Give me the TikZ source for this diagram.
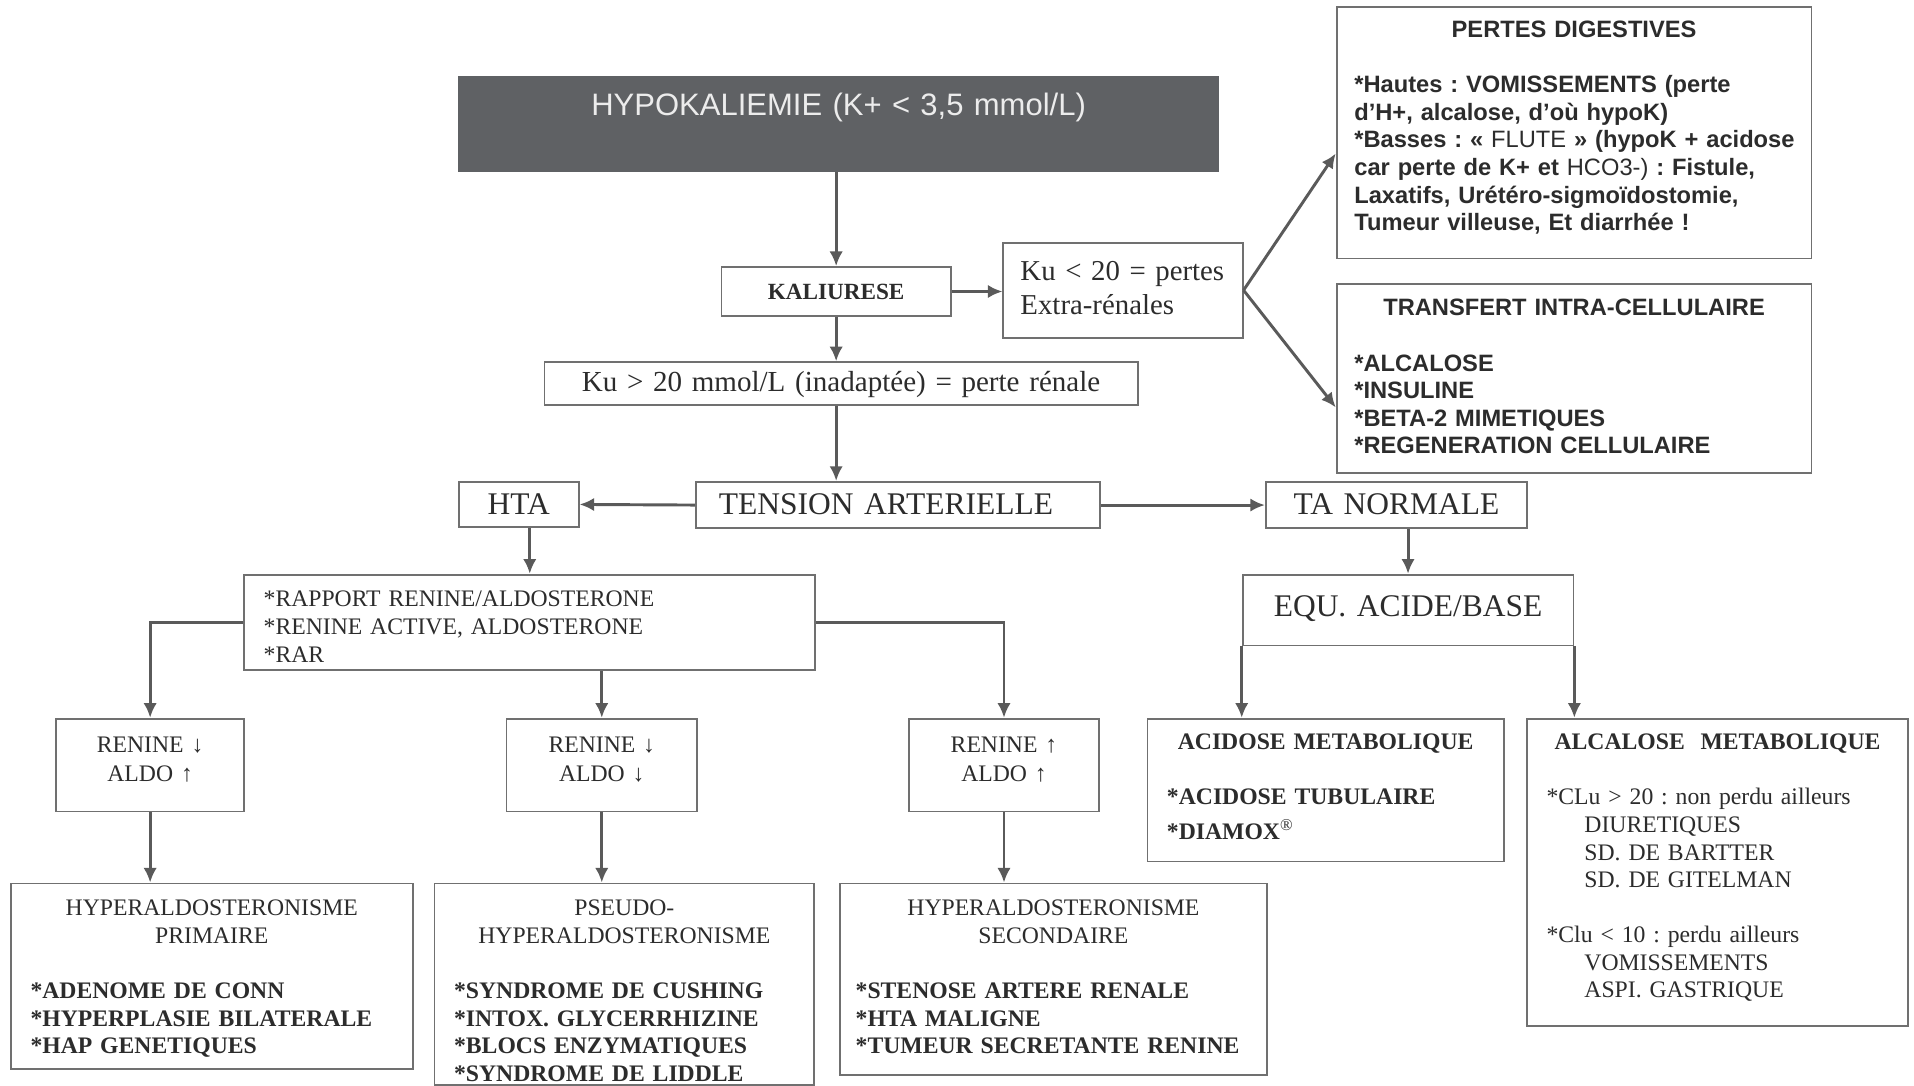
\documentclass[tikz,border=0pt]{standalone}
\usepackage{fontspec}
\setmainfont{Liberation Serif}
\setsansfont{Liberation Sans}
\usetikzlibrary{arrows.meta}
\definecolor{boxgray}{HTML}{707070}
\definecolor{linegray}{HTML}{5A5A5A}
\definecolor{inkgray}{HTML}{2C2C2C}
\definecolor{headgray}{HTML}{5F6164}
\definecolor{headtext}{HTML}{ECECEC}
\newcommand{\boxtitle}[1]{\makebox[\linewidth]{#1}}
\tikzset{
  cell/.style={draw=boxgray, line width=0.75pt, text=inkgray, inner ysep=0pt, inner xsep=8pt, anchor=north},
  note/.style={cell, align=left, font=\fontsize{9.7}{11.3}\selectfont},
  sansnote/.style={cell, align=left, font=\sffamily\bfseries\fontsize{9.7}{11.3}\selectfont},
  bignote/.style={cell, align=center, inner xsep=0pt, font=\fontsize{12.9}{15}\selectfont},
  renbox/.style={cell, align=center, inner xsep=0pt, text height=13.7pt, text depth=24.3pt,
    font=\fontsize{9.7}{12}\selectfont},
  link/.style={draw=linegray, line width=1.2pt, -{Latex[length=6pt,width=5.5pt]}},
}
\begin{document}
\frenchspacing
\begin{tikzpicture}[x=0.5pt,y=-0.5pt]
  \fill[white] (0,0) rectangle (1568,889);
  \useasboundingbox (0,0) rectangle (1568,889);
  % Start
  \node[cell, fill=headgray, draw=headgray, text=headtext, align=center, inner xsep=0pt,
        text width=311pt, text height=16pt, text depth=22.5pt,
        font=\sffamily\fontsize{12.7}{15}\selectfont] (hypo) at (687,62) {HYPOKALIEMIE (K+ < 3,5 mmol/L)};
  \node[cell, align=center, inner xsep=0pt, text width=94pt, text height=13.2pt, text depth=6.85pt,
        font=\bfseries\fontsize{9.5}{11}\selectfont] (kal) at (685,218) {KALIURESE};
  \node[cell, align=left, inner xsep=7pt, text width=84pt, text height=15.4pt, text depth=23.6pt,
        font=\fontsize{11.8}{14}\selectfont] (ku20) at (920,198) {Ku < 20 = pertes\\Extra-rénales};
  \node[cell, align=center, inner xsep=0pt, text width=243pt, text height=12pt, text depth=5.5pt,
        font=\fontsize{11.9}{14}\selectfont] (ku20r) at (689,296) {Ku > 20 mmol/L (inadaptée) = perte rénale};
  % Extra-renal losses
  \node[sansnote, inner xsep=7.25pt, text width=180pt, text height=12.5pt, text depth=90.5pt] (pertes) at (1289.5,5)
    {\boxtitle{PERTES DIGESTIVES}\\[11.3pt]
     \mbox{*Hautes : VOMISSEMENTS (perte}\\
     \mbox{d’H+, alcalose, d’où hypoK)}\\
     \mbox{*Basses : « \textmd{FLUTE} » (hypoK + acidose}\\
     \mbox{car perte de K+ et \textmd{HCO3-)} : Fistule,}\\
     \mbox{Laxatifs, Urétéro-sigmoïdostomie,}\\
     \mbox{Tumeur villeuse, Et diarrhée !}};
  \node[sansnote, inner xsep=7.25pt, text width=180pt, text height=13pt, text depth=64.5pt] (trans) at (1289.5,232)
    {\boxtitle{TRANSFERT INTRA-CELLULAIRE}\\[11.3pt]
     {*}ALCALOSE\\
     {*}INSULINE\\
     {*}BETA-2 MIMETIQUES\\
     {*}REGENERATION CELLULAIRE};
  % Blood pressure
  \node[bignote, align=left, inner xsep=9.5pt, text width=146.5pt, text height=13.25pt, text depth=5.75pt] (tension) at (735.5,394) {TENSION ARTERIELLE};
  \node[bignote, text width=49pt, text height=13.25pt, text depth=5.25pt] (hta) at (425,394) {HTA};
  \node[bignote, text width=107pt, text height=13.25pt, text depth=5.75pt] (tanorm) at (1144,394) {TA NORMALE};
  \node[note, text width=218pt, text height=13.2pt, text depth=25.8pt] (rar) at (434,470)
    {{*}RAPPORT RENINE/ALDOSTERONE\\
     {*}RENINE ACTIVE, ALDOSTERONE\\
     {*}RAR};
  \node[bignote, text width=135.5pt, text height=17.25pt, text depth=11.75pt] (equ) at (1153.5,470) {EQU. ACIDE/BASE};
  % Renin / aldosterone
  \node[renbox, text width=77pt] (ren1) at (123,588) {RENINE ↓\\ALDO ↑};
  \node[renbox, text width=78pt] (ren2) at (493,588) {RENINE ↓\\ALDO ↓};
  \node[renbox, text width=77.5pt] (ren3) at (822.5,588) {RENINE ↑\\ALDO ↑};
  % Causes
  \node[note, text width=148.5pt, text height=13.2pt, text depth=62.8pt] (prim) at (173.5,723)
    {\boxtitle{HYPERALDOSTERONISME}\\
     \boxtitle{PRIMAIRE}\\[11.3pt]
     \textbf{*ADENOME DE CONN}\\
     \textbf{*HYPERPLASIE BILATERALE}\\
     \textbf{*HAP GENETIQUES}};
  \node[note, text width=139.5pt, text height=13.2pt, text depth=69.3pt] (pseudo) at (511.5,723)
    {\boxtitle{PSEUDO-}\\
     \boxtitle{HYPERALDOSTERONISME}\\[11.3pt]
     \textbf{*SYNDROME DE CUSHING}\\
     \textbf{*INTOX. GLYCERRHIZINE}\\
     \textbf{*BLOCS ENZYMATIQUES}\\
     \textbf{*SYNDROME DE LIDDLE}};
  \node[note, inner xsep=6.5pt, text width=162pt, text height=13.2pt, text depth=65.3pt] (second) at (863,723)
    {\boxtitle{HYPERALDOSTERONISME}\\
     \boxtitle{SECONDAIRE}\\[11.3pt]
     \textbf{*STENOSE ARTERE RENALE}\\
     \textbf{*HTA MALIGNE}\\
     \textbf{*TUMEUR SECRETANTE RENINE}};
  \node[note, text width=130pt, text height=12.7pt, text depth=45.8pt] (acid) at (1086,588)
    {\boxtitle{\textbf{ACIDOSE METABOLIQUE}}\\[11.3pt]
     \textbf{*ACIDOSE TUBULAIRE}\\[2.7pt]
     \textbf{*DIAMOX}\textsuperscript{\textregistered}};
  \node[note, text width=140pt, text height=12.7pt, text depth=113.3pt] (alcal) at (1407,588)
    {\boxtitle{\textbf{ALCALOSE\ \ METABOLIQUE}}\\[11.3pt]
     {*}CLu > 20 : non perdu ailleurs\\
     \hspace*{15.5pt}DIURETIQUES\\
     \hspace*{15.5pt}SD. DE BARTTER\\
     \hspace*{15.5pt}SD. DE GITELMAN\\[11.3pt]
     {*}Clu < 10 : perdu ailleurs\\
     \hspace*{15.5pt}VOMISSEMENTS\\
     \hspace*{15.5pt}ASPI. GASTRIQUE};
  % Arrows
  \draw[link] (hypo.south -| kal.north) -- (kal.north);
  \draw[link] (kal.east) -- (kal.east -| ku20.west);
  \draw[link] (ku20.east) -- ([yshift=-8.5pt]pertes.west);
  \draw[link] (ku20.east) -- ([yshift=-11.75pt]trans.west);
  \draw[link] (kal.south) -- (kal.south |- ku20r.north);
  \draw[link] (kal.south |- ku20r.south) -- (kal.south |- tension.north);
  \draw[link] (tension.west) -- (hta.east);
  \draw[link] (tension.east) -- (tanorm.west);
  \draw[link] ([xshift=4.5pt]hta.south) -- ([xshift=4.5pt]hta.south |- rar.north);
  \draw[link] (rar.west) -| (ren1.north);
  \draw[link] (ren2.north |- rar.south) -- (ren2.north);
  \draw[link] (rar.east) -| (ren3.north);
  \draw[link] (ren1.south) -- (ren1.south |- prim.north);
  \draw[link] (ren2.south) -- (ren2.south |- pseudo.north);
  \draw[link] (ren3.south) -- (ren3.south |- second.north);
  \draw[link] (equ.north |- tanorm.south) -- (equ.north);
  \draw[link] (equ.south west) -- (equ.south west |- acid.north);
  \draw[link] (equ.south east) -- (equ.south east |- alcal.north);
\end{tikzpicture}
\end{document}
